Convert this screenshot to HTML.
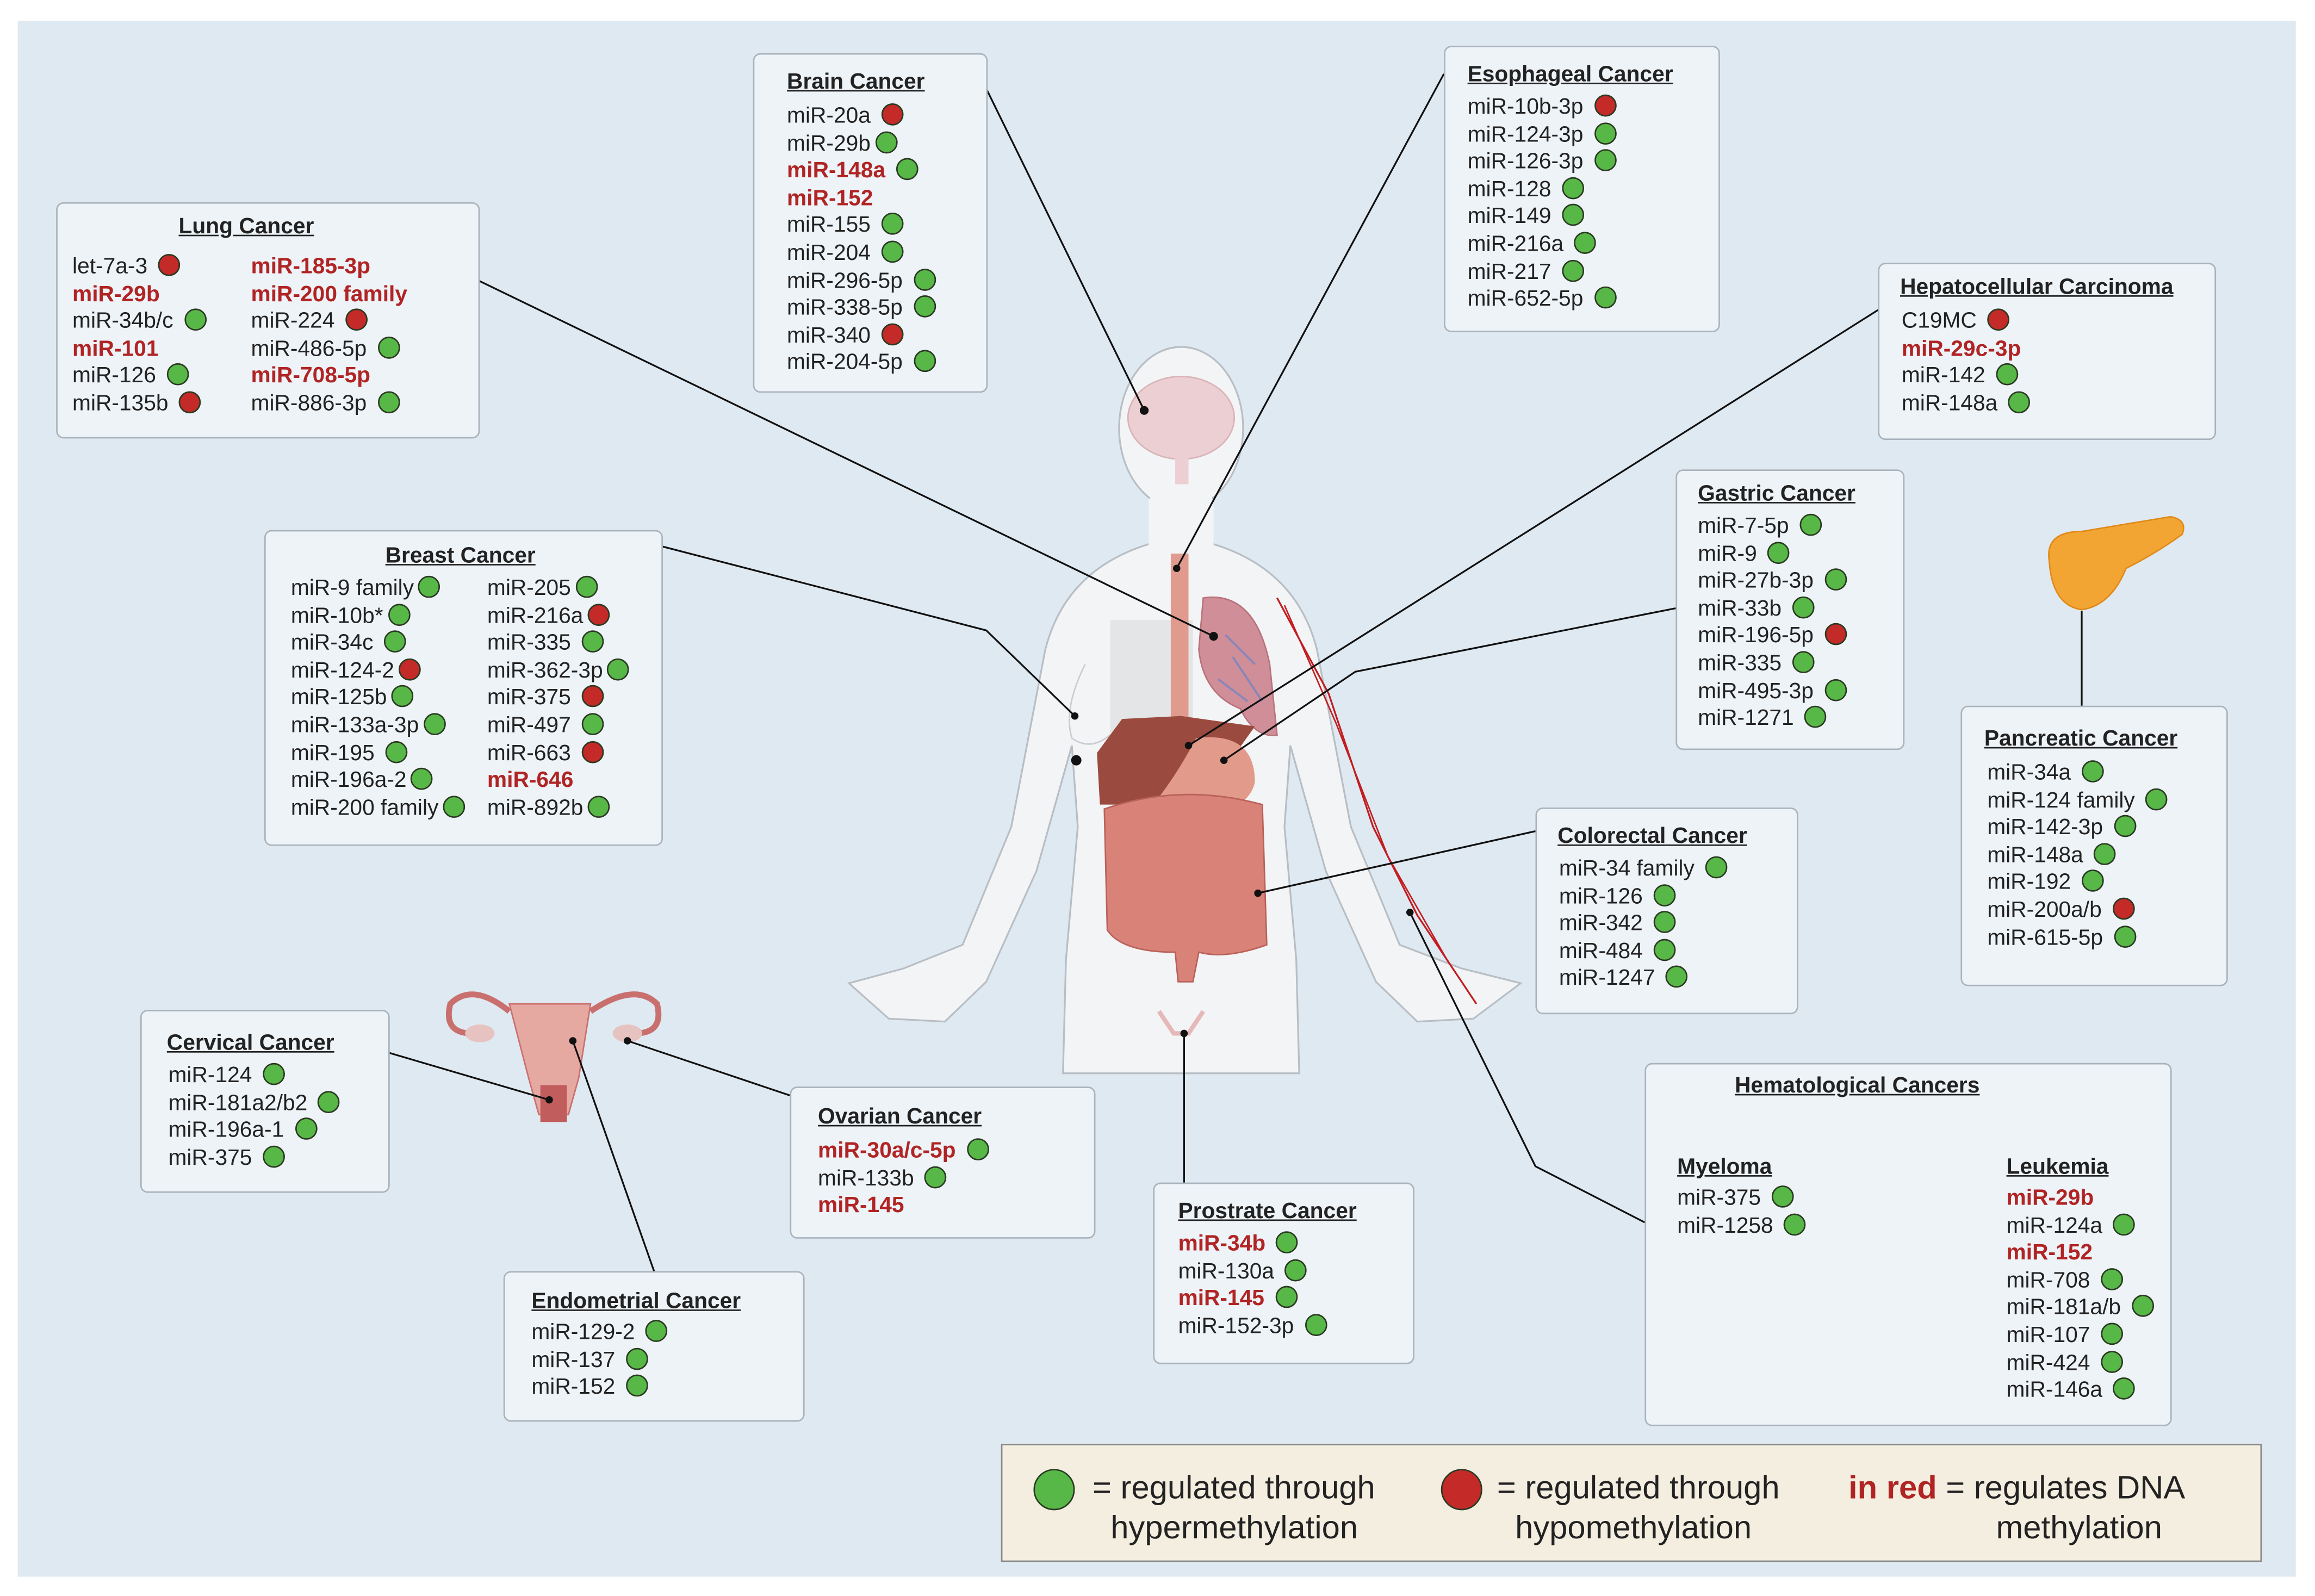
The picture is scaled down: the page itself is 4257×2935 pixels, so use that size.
<!DOCTYPE html>
<html><head><meta charset="utf-8">
<style>
*{margin:0;padding:0;box-sizing:border-box}
html,body{width:4257px;height:2935px;background:#fff;overflow:hidden}
#w{position:absolute;left:0;top:0;width:1568px;height:1081px;transform:scale(2.7149);transform-origin:0 0;font-family:"Liberation Sans",sans-serif;color:#222}
#bg{position:absolute;left:12px;top:14px;width:1543px;height:1054px;background:#dfe9f2}
.b{position:absolute;background:#eef3f8;border:1px solid #a9b3bc;border-radius:5px}
.t{position:absolute;font-weight:bold;font-size:15px;text-decoration:underline;white-space:nowrap}
.c{position:absolute;font-size:15px;line-height:18.6px;white-space:nowrap}
.r{color:#b02424;font-weight:bold}
.g,.d{display:inline-block;width:15px;height:15px;border-radius:50%;vertical-align:-2px;margin-left:3px;border:1px solid #2a3a22}
.g{background:#58b847}
.d{background:#c42a28}
svg{position:absolute;left:0;top:0}
</style></head><body><div id="w">
<div id="bg"></div>
<svg width="1568" height="1081" viewBox="0 0 1568 1081">
<!-- body -->
<g fill="#f3f4f5" stroke="#b8bec4" stroke-width="1.2">
<path d="M780,368 Q722,385 708,440 L685,560 L652,640 L612,656 L575,666 L602,690 L640,692 L668,665 L702,590 L726,505 L730,560 L722,650 L720,727 L880,727 L878,650 L870,560 L874,505 L898,590 L932,665 L960,692 L998,690 L1030,666 L990,656 L948,640 L915,560 L892,440 Q878,385 820,368 Z"/>
<rect x="778" y="320" width="44" height="60" stroke="none"/>
<ellipse cx="800" cy="290" rx="42" ry="55"/>
</g>
<rect x="779" y="330" width="42" height="45" fill="#f3f4f5"/>
<!-- brain -->
<ellipse cx="800" cy="283" rx="36" ry="28" fill="#eccfd2" stroke="#d9b3b8"/>
<rect x="796" y="300" width="9" height="28" fill="#eccfd2"/>
<!-- breast left -->
<path d="M735,450 Q720,480 726,500 Q740,510 755,495" fill="none" stroke="#c8cdd2"/>
<rect x="752" y="420" width="56" height="95" fill="#e4e5e6"/>
<!-- esophagus -->
<rect x="793" y="375" width="12" height="135" fill="#e09b8e"/>
<!-- lungs -->
<path d="M815,405 Q850,400 860,450 L865,498 Q850,500 840,480 Q815,470 812,440 Z" fill="#d08f98" stroke="#b9737c"/>
<path d="M830,430 L850,450 M835,445 L855,475 M825,460 L845,475" stroke="#8a86b8" stroke-width="1.5" fill="none"/>
<!-- liver stomach -->
<path d="M743,510 L760,487 L800,485 L850,492 L830,520 L800,540 L760,545 L745,545 Z" fill="#9a4a3e"/>
<path d="M810,500 Q850,495 850,530 Q845,550 810,555 Q790,550 785,540 Q800,520 810,500Z" fill="#e29a8a"/>
<path d="M780,540 L830,545 L815,555 L790,550Z" fill="#f0c070"/>
<!-- intestines -->
<path d="M748,548 Q800,530 855,545 L858,640 Q830,650 812,645 L808,665 L798,665 L796,645 Q760,645 750,630 Z" fill="#d98278" stroke="#b9615a"/>
<!-- pelvis faint -->
<path d="M785,685 L795,700 L805,700 L815,685" fill="none" stroke="#e6b8b8" stroke-width="3"/>
<!-- arm vessels -->
<path d="M865,405 L900,470 L930,560 L960,620 L1000,680" fill="none" stroke="#c21d20" stroke-width="1.2"/>
<path d="M870,410 L905,490 L940,580 L980,650" fill="none" stroke="#c21d20" stroke-width="1"/>
<!-- pancreas -->
<path d="M1388,380 Q1385,360 1410,360 Q1440,355 1470,350 Q1482,352 1478,362 Q1460,375 1440,385 Q1430,410 1410,413 Q1390,410 1388,380Z" fill="#f3a533" stroke="#e08a1a"/>
<!-- uterus -->
<g fill="none" stroke="#c9706e" stroke-width="4">
<path d="M345,685 Q320,665 305,680 Q300,700 320,700"/>
<path d="M400,685 Q430,665 445,680 Q450,700 430,700"/>
</g>
<path d="M345,680 L400,680 L392,730 L385,755 L365,755 L358,730Z" fill="#e5a9a2" stroke="#c9706e"/>
<rect x="366" y="735" width="18" height="25" fill="#c25d5d"/>
<ellipse cx="325" cy="700" rx="10" ry="6" fill="#e6c3c0"/>
<ellipse cx="425" cy="700" rx="10" ry="6" fill="#e6c3c0"/>
<!-- connectors -->
<g stroke="#111" stroke-width="1.2" fill="none">
<path d="M324,190 L822,431"/>
<path d="M668,60 L775,278"/>
<path d="M978,50 L797,385"/>
<path d="M1272,210 L805,505"/>
<path d="M1135,412 L918,455 L829,515"/>
<path d="M448,370 L668,427 L728,485"/>
<path d="M1040,563 L852,605"/>
<path d="M1410,478 L1410,414"/>
<path d="M1114,828 L1040,790 L955,618"/>
<path d="M802,801 L802,700"/>
<path d="M535,742 L425,705"/>
<path d="M263,713 L372,745"/>
<path d="M443,861 L388,705"/>
<path d="M1140,778 L1140,766 L1360,766 L1360,778 M1243,766 L1243,750"/>
</g>
<g fill="#111">
<circle cx="822" cy="431" r="3"/><circle cx="775" cy="278" r="3"/><circle cx="797" cy="385" r="2.5"/>
<circle cx="805" cy="505" r="2.5"/><circle cx="829" cy="515" r="2.5"/><circle cx="728" cy="485" r="2.5"/>
<circle cx="729" cy="515" r="3.5"/><circle cx="852" cy="605" r="2.5"/><circle cx="955" cy="618" r="2.5"/>
<circle cx="802" cy="700" r="2.5"/><circle cx="425" cy="705" r="2.5"/><circle cx="372" cy="745" r="2.5"/><circle cx="388" cy="705" r="2.5"/>
</g>
</svg>

<!-- Lung -->
<div class="b" style="left:38px;top:137px;width:287px;height:160px"></div>
<div class="t" style="left:121px;top:145px">Lung Cancer</div>
<div class="c" style="left:49px;top:172px">let-7a-3 <i class="d"></i><br><span class="r">miR-29b</span><br>miR-34b/c <i class="g"></i><br><span class="r">miR-101</span><br>miR-126 <i class="g"></i><br>miR-135b <i class="d"></i></div>
<div class="c" style="left:170px;top:172px"><span class="r">miR-185-3p</span><br><span class="r">miR-200 family</span><br>miR-224 <i class="d"></i><br>miR-486-5p <i class="g"></i><br><span class="r">miR-708-5p</span><br>miR-886-3p <i class="g"></i></div>

<!-- Brain -->
<div class="b" style="left:510px;top:36px;width:159px;height:230px"></div>
<div class="t" style="left:533px;top:47px">Brain Cancer</div>
<div class="c" style="left:533px;top:70px">miR-20a <i class="d"></i><br>miR-29b<i class="g"></i><br><span class="r">miR-148a</span> <i class="g"></i><br><span class="r">miR-152</span><br>miR-155 <i class="g"></i><br>miR-204 <i class="g"></i><br>miR-296-5p <i class="g"></i><br>miR-338-5p <i class="g"></i><br>miR-340 <i class="d"></i><br>miR-204-5p <i class="g"></i></div>

<!-- Esophageal -->
<div class="b" style="left:978px;top:31px;width:187px;height:194px"></div>
<div class="t" style="left:994px;top:42px">Esophageal Cancer</div>
<div class="c" style="left:994px;top:64px">miR-10b-3p <i class="d"></i><br>miR-124-3p <i class="g"></i><br>miR-126-3p <i class="g"></i><br>miR-128 <i class="g"></i><br>miR-149 <i class="g"></i><br>miR-216a <i class="g"></i><br>miR-217 <i class="g"></i><br>miR-652-5p <i class="g"></i></div>

<!-- Hepato -->
<div class="b" style="left:1272px;top:178px;width:229px;height:120px"></div>
<div class="t" style="left:1287px;top:186px">Hepatocellular Carcinoma</div>
<div class="c" style="left:1288px;top:209px">C19MC <i class="d"></i><br><span class="r">miR-29c-3p</span><br>miR-142 <i class="g"></i><br>miR-148a <i class="g"></i></div>

<!-- Gastric -->
<div class="b" style="left:1135px;top:318px;width:155px;height:190px"></div>
<div class="t" style="left:1150px;top:326px">Gastric Cancer</div>
<div class="c" style="left:1150px;top:348px">miR-7-5p <i class="g"></i><br>miR-9 <i class="g"></i><br>miR-27b-3p <i class="g"></i><br>miR-33b <i class="g"></i><br>miR-196-5p <i class="d"></i><br>miR-335 <i class="g"></i><br>miR-495-3p <i class="g"></i><br>miR-1271 <i class="g"></i></div>

<!-- Breast -->
<div class="b" style="left:179px;top:359px;width:270px;height:214px"></div>
<div class="t" style="left:261px;top:368px">Breast Cancer</div>
<div class="c" style="left:197px;top:390px">miR-9 family<i class="g"></i><br>miR-10b*<i class="g"></i><br>miR-34c <i class="g"></i><br>miR-124-2<i class="d"></i><br>miR-125b<i class="g"></i><br>miR-133a-3p<i class="g"></i><br>miR-195 <i class="g"></i><br>miR-196a-2<i class="g"></i><br>miR-200 family<i class="g"></i></div>
<div class="c" style="left:330px;top:390px">miR-205<i class="g"></i><br>miR-216a<i class="d"></i><br>miR-335 <i class="g"></i><br>miR-362-3p<i class="g"></i><br>miR-375 <i class="d"></i><br>miR-497 <i class="g"></i><br>miR-663 <i class="d"></i><br><span class="r">miR-646</span><br>miR-892b<i class="g"></i></div>

<!-- Pancreatic -->
<div class="b" style="left:1328px;top:478px;width:181px;height:190px"></div>
<div class="t" style="left:1344px;top:492px">Pancreatic Cancer</div>
<div class="c" style="left:1346px;top:515px">miR-34a <i class="g"></i><br>miR-124 family <i class="g"></i><br>miR-142-3p <i class="g"></i><br>miR-148a <i class="g"></i><br>miR-192 <i class="g"></i><br>miR-200a/b <i class="d"></i><br>miR-615-5p <i class="g"></i></div>

<!-- Colorectal -->
<div class="b" style="left:1040px;top:547px;width:178px;height:140px"></div>
<div class="t" style="left:1055px;top:558px">Colorectal Cancer</div>
<div class="c" style="left:1056px;top:580px">miR-34 family <i class="g"></i><br>miR-126 <i class="g"></i><br>miR-342 <i class="g"></i><br>miR-484 <i class="g"></i><br>miR-1247 <i class="g"></i></div>

<!-- Cervical -->
<div class="b" style="left:95px;top:684px;width:169px;height:124px"></div>
<div class="t" style="left:113px;top:698px">Cervical Cancer</div>
<div class="c" style="left:114px;top:720px">miR-124 <i class="g"></i><br>miR-181a2/b2 <i class="g"></i><br>miR-196a-1 <i class="g"></i><br>miR-375 <i class="g"></i></div>

<!-- Ovarian -->
<div class="b" style="left:535px;top:736px;width:207px;height:103px"></div>
<div class="t" style="left:554px;top:748px">Ovarian Cancer</div>
<div class="c" style="left:554px;top:771px"><span class="r">miR-30a/c-5p</span> <i class="g"></i><br>miR-133b <i class="g"></i><br><span class="r">miR-145</span></div>

<!-- Endometrial -->
<div class="b" style="left:341px;top:861px;width:204px;height:102px"></div>
<div class="t" style="left:360px;top:873px">Endometrial Cancer</div>
<div class="c" style="left:360px;top:894px">miR-129-2 <i class="g"></i><br>miR-137 <i class="g"></i><br>miR-152 <i class="g"></i></div>

<!-- Prostate -->
<div class="b" style="left:781px;top:801px;width:177px;height:123px"></div>
<div class="t" style="left:798px;top:812px">Prostrate Cancer</div>
<div class="c" style="left:798px;top:834px"><span class="r">miR-34b</span> <i class="g"></i><br>miR-130a <i class="g"></i><br><span class="r">miR-145</span> <i class="g"></i><br>miR-152-3p <i class="g"></i></div>

<!-- Hematological -->
<div class="b" style="left:1114px;top:720px;width:357px;height:246px"></div>
<div class="t" style="left:1175px;top:727px">Hematological Cancers</div>
<div class="t" style="left:1136px;top:782px">Myeloma</div>
<div class="c" style="left:1136px;top:803px">miR-375 <i class="g"></i><br>miR-1258 <i class="g"></i></div>
<div class="t" style="left:1359px;top:782px">Leukemia</div>
<div class="c" style="left:1359px;top:803px"><span class="r">miR-29b</span><br>miR-124a <i class="g"></i><br><span class="r">miR-152</span><br>miR-708 <i class="g"></i><br>miR-181a/b <i class="g"></i><br>miR-107 <i class="g"></i><br>miR-424 <i class="g"></i><br>miR-146a <i class="g"></i></div>

<!-- Legend -->
<div style="position:absolute;left:678px;top:978px;width:854px;height:80px;background:#f4eee0;border:1px solid #888"></div>
<div style="position:absolute;left:700px;top:995px;width:28px;height:28px;border-radius:50%;background:#58b847;border:1px solid #2a3a22"></div>
<div style="position:absolute;left:976px;top:995px;width:28px;height:28px;border-radius:50%;background:#c42a28;border:1px solid #2a3a22"></div>
<div style="position:absolute;left:740px;top:994px;font-size:22px;line-height:27px;white-space:nowrap">= regulated through<br>&nbsp;&nbsp;hypermethylation</div>
<div style="position:absolute;left:1014px;top:994px;font-size:22px;line-height:27px;white-space:nowrap">= regulated through<br>&nbsp;&nbsp;hypomethylation</div>
<div style="position:absolute;left:1252px;top:994px;font-size:22px;line-height:27px;white-space:nowrap"><span class="r">in red</span> = regulates DNA<br><span style="padding-left:100px">methylation</span></div>
</div></body></html>
